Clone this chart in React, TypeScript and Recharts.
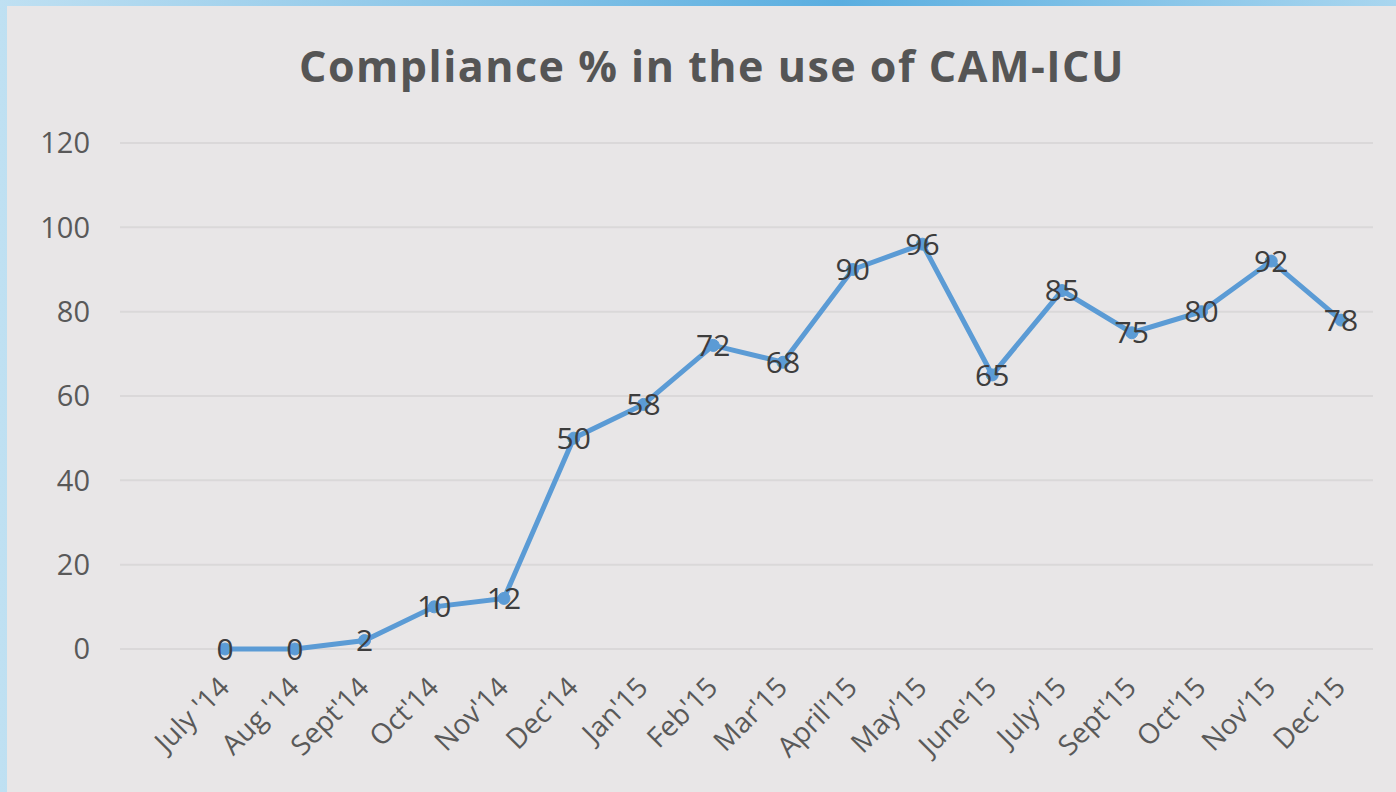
import { LineChart, Line, XAxis, YAxis, CartesianGrid, LabelList } from 'recharts';

// Compliance % in the use of CAM-ICU — monthly values
const months = [
  "July '14", "Aug '14", "Sept'14", "Oct'14", "Nov'14", "Dec'14",
  "Jan'15", "Feb'15", "Mar'15", "April'15", "May'15", "June'15",
  "July'15", "Sept'15", "Oct'15", "Nov'15", "Dec'15",
];
const compliance = [0, 0, 2, 10, 12, 50, 58, 72, 68, 90, 96, 65, 85, 75, 80, 92, 78];
const yTicks = [0, 20, 40, 60, 80, 100, 120];

const data = months.map((m, i) => ({ month: m, value: compliance[i] }));

const FONT = '"Open Sans", "Noto Sans", sans-serif';
const BLUE = '#5b9bd5';

export default function App() {
  return (
    <div
      style={{
        position: 'fixed',
        left: 0,
        top: 0,
        width: 1396,
        height: 792,
        overflow: 'hidden',
        background: 'linear-gradient(90deg, #bfe0f2 0%, #7fc0e6 40%, #5aaee0 60%, #a9d6ef 100%)',
        fontFamily: FONT,
      }}
    >
      <div
        style={{
          position: 'absolute',
          left: 7,
          top: 6,
          width: 1389,
          height: 786,
          background: '#e8e6e7',
        }}
      >
        <div
          style={{
            position: 'absolute',
            left: 0,
            width: 1410,
            top: 34,
            textAlign: 'center',
            fontSize: 43,
            fontWeight: 700,
            letterSpacing: 1.5,
            color: '#555555',
            lineHeight: '52px',
          }}
        >
          Compliance % in the use of CAM-ICU
        </div>
        <LineChart
          width={1389}
          height={786}
          data={data}
          margin={{ top: 137, right: 23, bottom: 23, left: 0 }}
        >
          <CartesianGrid vertical={false} stroke="#dad8d9" strokeWidth={2} />
          <XAxis
            dataKey="month"
            axisLine={false}
            tickLine={false}
            tickSize={0}
            interval={0}
            height={120}
            padding={{ left: 105, right: 32 }}
            tick={{ fontSize: 28, fill: '#595959', fontFamily: FONT, angle: -45, textAnchor: 'end', dy: 24, dx: -8 }}
          />
          <YAxis
            domain={[0, 120]}
            ticks={yTicks}
            axisLine={false}
            tickLine={false}
            tickSize={0}
            tickMargin={30}
            width={113}
            tick={{ fontSize: 29, fill: '#595959', fontFamily: FONT }}
          />
          <Line
            type="linear"
            dataKey="value"
            stroke={BLUE}
            strokeWidth={5}
            dot={{ r: 6, fill: BLUE, stroke: BLUE, strokeWidth: 1 }}
            isAnimationActive={false}
          >
            <LabelList dataKey="value" position="center" fill="#3d3d3d" fontSize={30} fontFamily={FONT} />
          </Line>
        </LineChart>
      </div>
    </div>
  );
}
